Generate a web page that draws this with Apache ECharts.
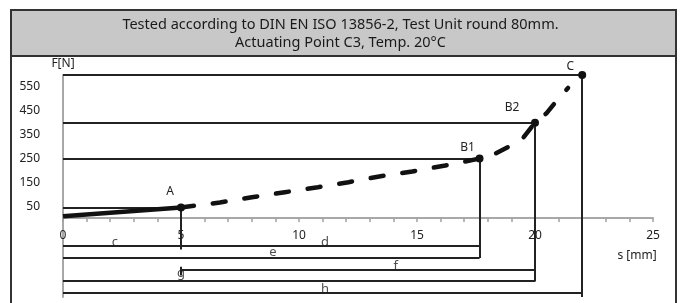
<!DOCTYPE html>
<html>
<head>
<meta charset="utf-8">
<script src="https://cdn.jsdelivr.net/npm/echarts@6/dist/echarts.min.js"></script>
<style>
  html, body { margin: 0; padding: 0; background: #fff; }
  #chart { width: 681px; height: 303px; }
</style>
</head>
<body>
<div id="chart"></div>
<script>
// travel s [mm] / force F [N]
var solidS = [0, 5];
var solidF = [8, 45];
var dashS = [5, 6.65, 8, 9.4, 10.8, 12.1, 13.4, 14.8, 16.2, 17.65, 18.3, 18.9, 19.5, 20, 20.5, 20.9, 21.4];
var dashF = [45, 66, 88, 109, 130, 151, 175, 196, 221, 250, 270, 300, 337, 400, 441, 490, 546];

// marked points A, B1, B2, C
var pointNames = ['A', 'B1', 'B2', 'C'];
var pointS = [5, 17.65, 20, 22];
var pointF = [45, 250, 400, 600];
var pointDropTo = [-131, -167, -265, -330];   // where the vertical from each point ends

// dimension lines below the axis
var dimFrom = [0, 0, 5, 0, 0];
var dimTo = [17.65, 17.65, 20, 20, 22];
var dimLevel = [-116, -166, -217, -263, -314];
var dimNames = ['c', 'd', 'e', 'f', 'g', 'h'];
var dimNameS = [2.2, 11.1, 8.9, 14.1, 5, 11.1];
var dimNameF = [-99, -99, -142, -200, -229, -297];

var yLabels = [50, 150, 250, 350, 450, 550];

var chart = echarts.init(document.getElementById('chart'));

var labelOffsets = [[-11, -16], [-12, -11], [-23, -15], [-12, -8]];

var guides = [];
pointNames.forEach(function (n, i) {
  guides.push({ coords: [[0, pointF[i]], [pointS[i], pointF[i]]] });
  guides.push({ coords: [[pointS[i], pointF[i]], [pointS[i], pointDropTo[i]]] });
});
dimLevel.forEach(function (lv, i) {
  guides.push({ coords: [[dimFrom[i], lv], [dimTo[i], lv]] });
});
// small end mark of f
guides.push({ coords: [[5, -203], [5, -240]] });

var option = {
  animation: false,
  title: {
    text: 'Tested according to DIN EN ISO 13856-2, Test Unit round 80mm.\nActuating Point C3, Temp. 20°C',
    left: 'center',
    top: 11,
    textStyle: { fontFamily: 'Noto Sans', fontSize: 14.5, fontWeight: 'normal', color: '#1a1a1a', lineHeight: 18 }
  },
  graphic: [
    { type: 'rect', z: 0, shape: { x: 11, y: 10, width: 665, height: 46 },
      style: { fill: '#c8c8c8', stroke: '#333', lineWidth: 2 } },
    { type: 'rect', z: 0, shape: { x: 11, y: 10, width: 665, height: 300 },
      style: { fill: 'none', stroke: '#333', lineWidth: 2 } },
    { type: 'text', z: 5, x: 637, y: 256,
      style: { text: 's [mm]', fill: '#222', font: '12px "Noto Sans"', align: 'center', verticalAlign: 'middle' } }
  ],
  grid: { left: 63, right: 28, top: 75, bottom: 6, containLabel: false, outerBoundsMode: 'none' },
  xAxis: {
    type: 'value', min: 0, max: 25, interval: 5,
    position: 'bottom', offset: -79,
    axisLine: { onZero: false, lineStyle: { color: '#a8a8a8', width: 2 } },
    axisTick: { show: true, length: 4, lineStyle: { color: '#a0a0a0', width: 1.5 } },
    minorTick: { show: true, splitNumber: 5, length: 4, lineStyle: { color: '#a0a0a0', width: 1.5 } },
    axisLabel: { margin: 12, color: '#222', fontFamily: 'Noto Sans', fontSize: 12 },
    splitLine: { show: false }
  },
  yAxis: {
    type: 'value', min: -330, max: 600,
    name: 'F[N]', nameLocation: 'end', nameGap: 5,
    nameTextStyle: { color: '#222', fontFamily: 'Noto Sans', fontSize: 12, align: 'center' },
    axisLine: { show: true, lineStyle: { color: '#a8a8a8', width: 2 } },
    axisTick: { show: false },
    axisLabel: { customValues: yLabels, margin: 23, color: '#222', fontFamily: 'Noto Sans', fontSize: 12 },
    splitLine: { show: false }
  },
  series: [
    {
      type: 'lines', coordinateSystem: 'cartesian2d', z: 2,
      lineStyle: { color: '#222', width: 2, opacity: 1 },
      data: guides
    },
    {
      type: 'line', z: 3, symbol: 'none',
      lineStyle: { color: '#111', width: 4.5 },
      data: solidS.map(function (s, i) { return [s, solidF[i]]; })
    },
    {
      type: 'line', z: 3, symbol: 'none',
      lineStyle: { color: '#111', width: 4.5, type: [13, 19], cap: 'round' },
      data: dashS.map(function (s, i) { return [s, dashF[i]]; })
    },
    {
      type: 'scatter', z: 4, symbolSize: 8,
      itemStyle: { color: '#111', opacity: 1 },
      label: { show: true, position: 'inside', color: '#222', fontFamily: 'Noto Sans', fontSize: 12,
        formatter: function (p) { return pointNames[p.dataIndex]; } },
      data: pointS.map(function (s, i) {
        return { value: [s, pointF[i]], label: { offset: labelOffsets[i] } };
      })
    },
    {
      type: 'scatter', z: 4, symbolSize: 0, silent: true,
      label: { show: true, position: 'inside', color: '#222', fontFamily: 'Noto Sans', fontSize: 13,
        formatter: function (p) { return dimNames[p.dataIndex]; } },
      data: dimNameS.map(function (s, i) { return [s, dimNameF[i]]; })
    }
  ]
};

chart.setOption(option);
window.addEventListener('resize', function () {
  chart.resize();
});
</script>
</body>
</html>
